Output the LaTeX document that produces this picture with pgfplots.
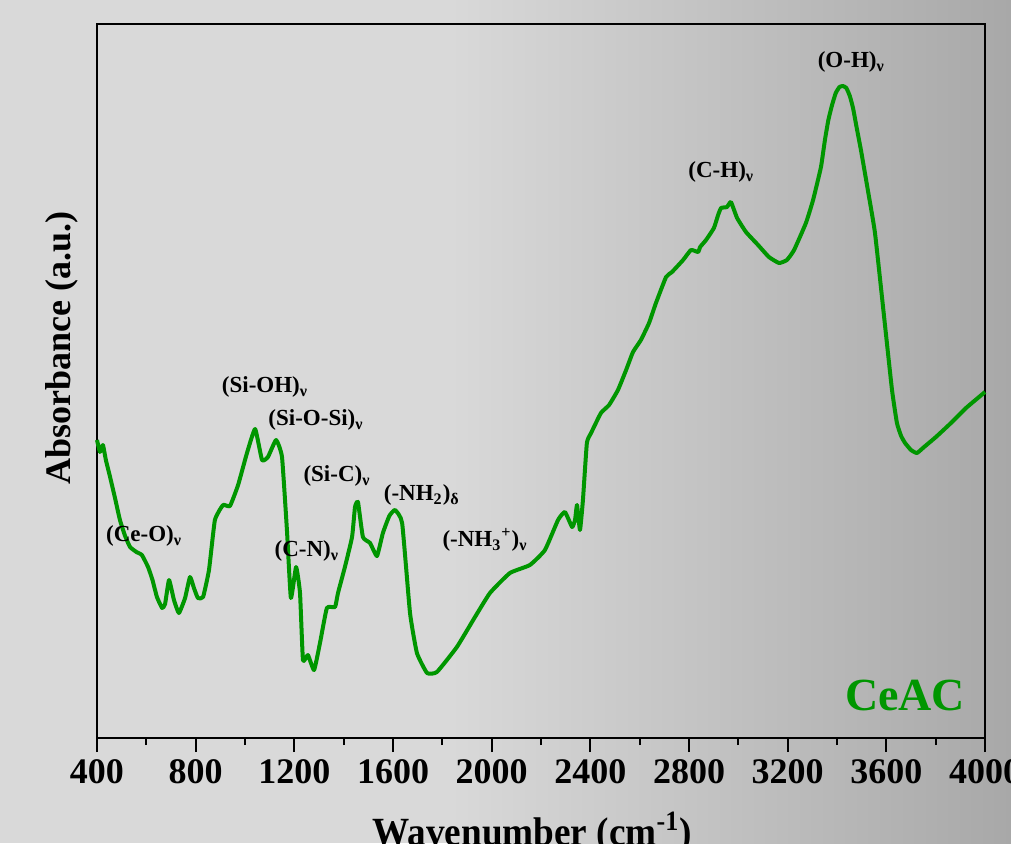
\documentclass[border=0pt]{standalone}
\usepackage{fontspec}
\setmainfont{Liberation Serif}
\usepackage{pgfplots}
\pgfplotsset{compat=1.18}
\definecolor{bgl}{RGB}{217,217,217}
\definecolor{bgr}{RGB}{168,168,168}
\definecolor{ftir}{RGB}{0,150,0}
\begin{document}
\begin{tikzpicture}
\clip (0,0) rectangle (505.5pt,421.5pt);
\fill[bgl] (0,0) rectangle (226pt,421.5pt);
\shade[left color=bgl, right color=bgr] (225pt,0) rectangle (505.5pt,421.5pt);
\begin{axis}[
  at={(48.5pt,52.5pt)}, anchor=south west,
  scale only axis, width=444pt, height=357pt,
  xmin=400, xmax=4000, ymin=0, ymax=714,
  xtick={400,800,...,4000}, minor x tick num=1,
  ytick=\empty,
  xtick pos=bottom,
  tick align=outside,
  major tick length=7pt, minor tick length=3.5pt,
  axis line style={line width=1pt},
  every tick/.style={line width=1pt, black},
  scaled ticks=false,
  /pgf/number format/assume math mode=true,
  /pgf/number format/1000 sep={},
  xticklabel style={font=\bfseries\fontsize{18}{18}\selectfont},
  xlabel={\bfseries Wavenumber (cm\textsuperscript{-1})},
  ylabel={\bfseries Absorbance (a.u.)},
  every axis x label/.style={at={(axis description cs:0.49,-0.151)}, anchor=base, xscale=0.93, font=\fontsize{20}{20}\selectfont},
  every axis y label/.style={at={(axis description cs:-0.0394,0.546)}, anchor=center, rotate=90, font=\fontsize{18}{18}\selectfont},
  clip=false,
]
\addplot[ftir, line width=2pt, line join=round, smooth, tension=0.25] coordinates {
(400,298)(412,286)(424,293)(436,278)(453,261)(473,240)(493,218)(514,202)(534,191)(560,186)(582,183)
(607,171)(625,158)(643,141)(664,130)(676,134)(692,158)(712,138)(732,125)(757,140)
(777,161)(793,150)(809,140)(830,141)(854,168)(878,218)(911,233)(939,232)
(972,253)(1008,285)(1041,309)(1069,278)(1093,281)(1126,298)(1150,281)
(1170,208)(1186,140)(1207,171)(1223,145)(1235,78)(1255,83)(1280,68)
(1304,95)(1332,130)(1365,131)(1377,145)(1405,171)(1434,201)(1446,231)
(1458,236)(1478,201)(1507,195)(1535,182)(1559,205)(1585,222)(1608,228)(1637,215)
(1669,125)(1697,85)(1738,65)(1778,66)(1859,91)(1930,120)(1993,145)(2074,165)
(2155,173)(2216,188)(2269,218)(2297,226)(2326,211)(2338,218)(2346,233)
(2358,208)(2370,238)(2386,295)(2403,305)(2443,325)(2476,333)(2512,348)
(2545,368)(2573,386)(2605,398)(2638,415)(2666,435)(2707,461)(2731,466)
(2776,478)(2808,488)(2837,486)(2845,491)(2869,498)(2901,510)(2918,523)
(2930,530)(2954,531)(2970,536)(2995,520)(3031,506)(3080,493)(3124,481)
(3165,475)(3197,478)(3226,488)(3274,515)(3303,538)(3335,571)(3351,598)
(3365,618)(3380,633)(3395,645)(3410,651)(3424,652)(3438,650)(3452,642)(3465,630)(3480,610)(3497,588)(3525,548)(3554,505)
(3591,421)(3623,348)(3643,315)(3660,302)(3676,295)(3700,288)(3724,285)(3753,291)
(3801,301)(3862,315)(3923,330)(4000,346)
};
\begin{scope}[every node/.style={font=\bfseries\fontsize{11.5}{12}\selectfont, anchor=center}]
\node at (axis cs:3458,676) {(O-H)\textsubscript{ν}};
\node at (axis cs:2931,566) {(C-H)\textsubscript{ν}};
\node at (axis cs:1081,351) {(Si-OH)\textsubscript{ν}};
\node at (axis cs:1288,318) {(Si-O-Si)\textsubscript{ν}};
\node at (axis cs:1373,262) {(Si-C)\textsubscript{ν}};
\node at (axis cs:1717,243) {(-NH\textsubscript{2})\textsubscript{δ}};
\node at (axis cs:1973,198) {(-NH\textsubscript{3}\textsuperscript{+})\textsubscript{ν}};
\node at (axis cs:1251,187) {(C-N)\textsubscript{ν}};
\node at (axis cs:591,202) {(Ce-O)\textsubscript{ν}};
\end{scope}
\node[font=\bfseries\fontsize{23}{23}\selectfont, text=ftir, anchor=center] at (axis cs:3676,43) {CeAC};
\end{axis}
\end{tikzpicture}
\end{document}
